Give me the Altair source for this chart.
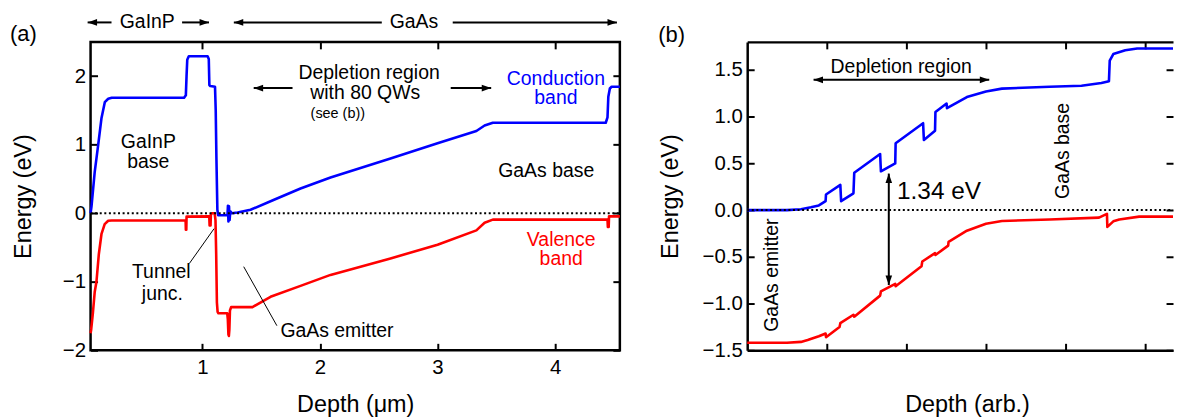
import altair as alt
import pandas as pd

FONT = "Liberation Sans"
BLUE = "#0000ff"
RED = "#ff0000"

# ---------------- Panel (a): band diagram vs depth (um) ----------------
CB_A_X = [0.05, 0.058, 0.085, 0.115, 0.143, 0.171, 0.20, 0.23, 0.845, 0.86, 0.866, 0.872, 0.885,
          1.045, 1.055, 1.06, 1.068, 1.108, 1.114, 1.12, 1.128, 1.135, 1.21, 1.214, 1.218, 1.222,
          1.227, 1.232, 1.238, 1.25, 1.30, 1.41, 1.60, 1.835, 2.09, 2.60, 3.00, 3.33, 3.40, 3.47,
          4.43, 4.445, 4.452, 4.465, 4.48, 4.55]
CB_A_E = [0.0, 0.1, 0.6, 1.0, 1.39, 1.62, 1.67, 1.685, 1.685, 1.72, 2.0, 2.24, 2.29,
          2.29, 2.25, 1.87, 1.855, 1.845, 1.5, 0.8, 0.05, -0.03, -0.03, -0.03, 0.11, -0.12,
          0.10, -0.10, 0.03, 0.0, 0.01, 0.05, 0.19, 0.36, 0.52, 0.80, 1.02, 1.20, 1.28, 1.32,
          1.32, 1.40, 1.70, 1.82, 1.845, 1.845]
VB_A_X = [0.05, 0.055, 0.07, 0.085, 0.10, 0.12, 0.143, 0.17, 0.20, 0.23, 0.858, 0.86, 0.864, 0.866,
          1.059, 1.062, 1.07, 1.073, 1.085, 1.105, 1.112, 1.118, 1.124, 1.13, 1.137, 1.212, 1.217,
          1.222, 1.226, 1.23, 1.235, 1.245, 1.426, 1.58, 1.835, 2.09, 2.60, 3.00, 3.33, 3.40, 3.47,
          4.445, 4.448, 4.455, 4.458, 4.55]
VB_A_E = [-1.75, -1.70, -1.45, -1.15, -1.0, -0.6, -0.30, -0.16, -0.11, -0.105, -0.105, -0.24, -0.24, -0.05,
          -0.046, -0.18, -0.18, -0.01, 0.0, 0.0, -0.1, -0.6, -1.3, -1.44, -1.46, -1.46, -1.55,
          -1.77, -1.79, -1.70, -1.42, -1.37, -1.37, -1.22, -1.06, -0.90, -0.66, -0.46, -0.25, -0.14, -0.094,
          -0.094, -0.20, -0.20, -0.046, -0.046]

# ---------------- Panel (b): zoom on depletion region (arb.) ----------------
CB_B_X = [0.0, 0.5, 0.675, 0.8, 0.9, 0.985, 0.99, 1.17, 1.18, 1.335, 1.345, 1.67, 1.68, 1.86, 1.865,
          2.21, 2.22, 2.36, 2.365, 2.505, 2.51, 2.76, 3.0, 3.2, 3.8, 4.2, 4.45, 4.545, 4.555, 4.6,
          4.75, 4.9, 5.35]
CB_B_E = [0.0, 0.0, 0.01, 0.03, 0.05, 0.096, 0.167, 0.27, 0.096, 0.18, 0.40, 0.60, 0.415, 0.50, 0.716,
          0.93, 0.75, 0.85, 1.05, 1.14, 1.09, 1.21, 1.27, 1.30, 1.32, 1.33, 1.36, 1.38, 1.60, 1.67,
          1.71, 1.73, 1.73]
VB_B_X = [0.0, 0.5, 0.675, 0.76, 0.9, 0.985, 0.99, 1.16, 1.17, 1.335, 1.345, 1.67, 1.68, 1.86, 1.865,
          2.19, 2.20, 2.36, 2.365, 2.525, 2.53, 2.76, 3.0, 3.2, 3.8, 4.42, 4.52, 4.525, 4.6, 4.675,
          4.925, 5.35]
VB_B_E = [-1.42, -1.42, -1.41, -1.39, -1.35, -1.32, -1.36, -1.25, -1.21, -1.12, -1.14, -0.915, -0.87, -0.79, -0.815,
          -0.60, -0.55, -0.46, -0.48, -0.38, -0.34, -0.22, -0.146, -0.117, -0.10, -0.08, -0.04, -0.18, -0.12, -0.10,
          -0.07, -0.07]

A_XTICKS = [1, 2, 3, 4]
A_YTICKS = [-2, -1, 0, 1, 2]
B_XTICKS = [1, 2, 3, 4, 5]
B_YTICKS = [-1.5, -1.0, -0.5, 0.0, 0.5, 1.0, 1.5]
BANDS = ["Conduction band", "Valence band"]

# annotations (data coordinates); "\n" separates the lines of a two-line label
A_TEXT = ["(a)", "GaInP", "GaAs", "Depletion region", "with 80 QWs", "(see (b))", "Conduction\nband",
          "GaInP\nbase", "GaAs base", "Valence\nband", "Tunnel", "junc.", "GaAs emitter"]
A_TX = [-0.521, 0.532, 2.799, 2.418, 2.385, 2.152, 4.006, 0.541, 3.924, 4.051, 0.651, 0.66, 2.145]
A_TY = [2.61, 2.784, 2.784, 2.044, 1.753, 1.448, 1.956, 1.032, 0.621, -0.395, -0.864, -1.183, -1.726]
A_TS = [22, 19.5, 19.5, 19.5, 19.5, 14.5, 19.5, 19.5, 19.5, 19.5, 19.5, 19.5, 19.5]
A_TC = ["black", "black", "black", "black", "black", "black", BLUE, "black", "black", RED,
        "black", "black", "black"]
A_TA = [0] * 13

A_SX = [0.025, 0.828, 1.268, 3.129, 1.437, 3.112, 0.89, 1.352]
A_SX2 = [0.228, 1.057, 2.526, 4.525, 1.767, 3.456, 1.10, 1.634]
A_SY = [2.784, 2.784, 2.784, 2.784, 1.826, 1.826, -0.733, -0.78]
A_SY2 = [2.784, 2.784, 2.784, 2.784, 1.826, 1.826, -0.225, -1.641]
A_SW = [2, 2, 2, 2, 2, 2, 1, 1]

A_HX = [0.025, 1.057, 1.268, 4.525, 1.437, 3.456]
A_HY = [2.784, 2.784, 2.784, 2.784, 1.826, 1.826]
A_HD = ["left", "right", "left", "right", "left", "right"]

B_TEXT = ["(b)", "Depletion region", "1.34 eV", "GaAs base", "GaAs emitter"]
B_TX = [-0.95, 1.935, 2.41, 3.9625, 0.3125]
B_TY = [1.875, 1.535, 0.197, 0.633, -0.696]
B_TS = [22, 19.5, 24.5, 19.5, 19.5]
B_TC = ["black"] * 5
B_TA = [0, 0, 0, 270, 270]

B_SX = [0.834, 1.779]
B_SX2 = [3.041, 1.779]
B_SY = [1.394, 0.391]
B_SY2 = [1.394, -0.802]
B_SW = [2, 2]

B_HX = [0.834, 3.041, 1.779, 1.779]
B_HY = [1.394, 1.394, 0.391, -0.802]
B_HD = ["left", "right", "up", "down"]

HEAD_PATHS = {
    "right": "M0,0 L-2,-0.7 L-2,0.7 Z",
    "left": "M0,0 L2,-0.7 L2,0.7 Z",
    "up": "M0,0 L-0.7,2 L0.7,2 Z",
    "down": "M0,0 L-0.7,-2 L0.7,-2 Z",
}


def bands_df(cx, ce, vx, ve):
    rows = []
    for i, (x, e) in enumerate(zip(cx, ce)):
        rows.append({"x": x, "E": e, "band": BANDS[0], "i": i})
    for i, (x, e) in enumerate(zip(vx, ve)):
        rows.append({"x": x, "E": e, "band": BANDS[1], "i": i})
    return pd.DataFrame(rows)


def axis_common():
    return dict(domain=False, grid=False, tickSize=7, tickWidth=2, tickColor="black", offset=-7,
                minExtent=0,
                labelFont=FONT, labelFontSize=20.5, labelColor="black",
                titleFont=FONT, titleFontSize=23.5, titleColor="black", titleFontWeight="normal")


def frame_axis(orient):
    return alt.Axis(orient=orient, domain=True, domainColor="black", domainWidth=2.5, ticks=False,
                    labels=False, grid=False, title=None, offset=0, minExtent=0)


def panel(df, xdom, ydom, width, xticks, yticks, xtitle, ytitle, xlabels, yfmt,
          xtpad, ytpad, texts, segs, heads, framed, xtitle_x=None):
    xs = alt.Scale(domain=xdom, nice=False, zero=False)
    ys = alt.Scale(domain=ydom, nice=False, zero=False)

    bkw = dict(orient="bottom", values=xticks, title=xtitle, labels=xlabels, format="d",
               labelPadding=7, titlePadding=xtpad, **axis_common())
    if xtitle_x is not None:
        bkw["titleX"] = xtitle_x
    bottom = alt.Axis(**bkw)
    left = alt.Axis(orient="left", values=yticks, title=ytitle, format=yfmt,
                    labelPadding=5, titlePadding=ytpad, **axis_common())
    top = alt.Axis(orient="top", values=xticks, title=None, labels=False, **axis_common())
    right = alt.Axis(orient="right", values=yticks, title=None, labels=False, **axis_common())

    lines = alt.Chart(df).mark_line(strokeWidth=2.6, strokeJoin="round").encode(
        x=alt.X("x:Q", scale=xs, axis=bottom),
        y=alt.Y("E:Q", scale=ys, axis=left),
        color=alt.Color("band:N", scale=alt.Scale(domain=BANDS, range=[BLUE, RED]), legend=None),
        order="i:Q",
    )

    zero = pd.DataFrame({"x0": [xdom[0]], "x1": [xdom[1]], "E": [0.0]})
    zline = alt.Chart(zero).mark_rule(color="black", strokeWidth=2, strokeDash=[2, 2.6]).encode(
        x=alt.X("x0:Q", scale=xs, axis=top),
        x2="x1:Q",
        y=alt.Y("E:Q", scale=ys, axis=right),
    )

    tx, ty, tt, ts, tc, ta = texts
    tdf = pd.DataFrame({"x": tx, "y": ty, "t": tt, "fs": ts, "col": tc, "ang": ta})
    tlayer = alt.Chart(tdf).mark_text(font=FONT, baseline="middle", align="center",
                                      lineBreak="\n", lineHeight=19.3).encode(
        x=alt.X("x:Q", scale=xs, axis=None if framed else frame_axis("top")),
        y=alt.Y("y:Q", scale=ys, axis=None),
        text="t:N",
        size=alt.Size("fs:Q", scale=None),
        color=alt.Color("col:N", scale=None),
        angle=alt.Angle("ang:Q", scale=None),
    )

    sx, sx2, sy, sy2, sw = segs
    sdf = pd.DataFrame({"x": sx, "x2": sx2, "y": sy, "y2": sy2, "w": sw})
    slayer = alt.Chart(sdf).mark_rule(color="black").encode(
        x=alt.X("x:Q", scale=xs, axis=None),
        x2="x2:Q",
        y=alt.Y("y:Q", scale=ys, axis=None if framed else frame_axis("left")),
        y2="y2:Q",
        strokeWidth=alt.StrokeWidth("w:Q", scale=None),
    )

    hx, hy, hd = heads
    hdf = pd.DataFrame({"x": hx, "y": hy, "shape": [HEAD_PATHS[d] for d in hd]})
    hlayer = alt.Chart(hdf).mark_point(filled=True, color="black", opacity=1, size=90, strokeWidth=0).encode(
        x=alt.X("x:Q", scale=xs, axis=None if framed else frame_axis("bottom")),
        y=alt.Y("y:Q", scale=ys, axis=None),
        shape=alt.Shape("shape:N", scale=None),
    )

    props = dict(width=width, height=310)
    if not framed:
        props["view"] = alt.ViewBackground(stroke="transparent", strokeWidth=0)
    return alt.layer(lines, zline, slayer, hlayer, tlayer).resolve_axis(
        x="independent", y="independent").properties(**props)


pa = panel(bands_df(CB_A_X, CB_A_E, VB_A_X, VB_A_E), [0.05, 4.55], [-2, 2.5], 532,
           A_XTICKS, A_YTICKS, "Depth (μm)", "Energy (eV)", True, "d", 15, 27,
           (A_TX, A_TY, A_TEXT, A_TS, A_TC, A_TA), (A_SX, A_SX2, A_SY, A_SY2, A_SW),
           (A_HX, A_HY, A_HD), True)
pb = panel(bands_df(CB_B_X, CB_B_E, VB_B_X, VB_B_E), [0, 5.35], [-1.5, 1.8], 428,
           B_XTICKS, B_YTICKS, "Depth (arb.)", "Energy (eV)", False, ".1f", 42, 20,
           (B_TX, B_TY, B_TEXT, B_TS, B_TC, B_TA), (B_SX, B_SX2, B_SY, B_SY2, B_SW),
           (B_HX, B_HY, B_HD), False, xtitle_x=221)

chart = alt.hconcat(pa, pb, spacing=35).properties(
    padding={"left": 0, "top": 2, "right": 0, "bottom": 0},
    background="white",
).configure_view(stroke="black", strokeWidth=2.5)

chart.save("out.html", embed_options={"renderer": "svg", "actions": False})
